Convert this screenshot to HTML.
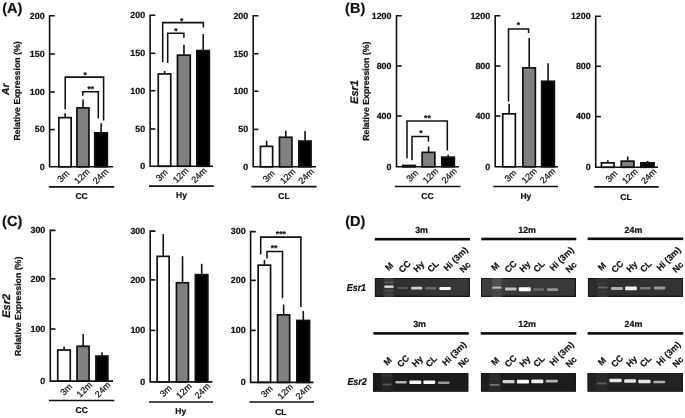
<!DOCTYPE html>
<html><head><meta charset="utf-8"><title>Figure</title>
<style>
html,body{margin:0;padding:0;background:#fff;}
body{width:685px;height:418px;overflow:hidden;font-family:"Liberation Sans",sans-serif;}
svg{display:block;filter:blur(0.4px);}
svg text{font-family:"Liberation Sans",sans-serif;text-rendering:geometricPrecision;stroke:#111;stroke-width:0.22px;}
</style></head><body>
<svg width="685" height="418" viewBox="0 0 685 418" font-family="Liberation Sans, sans-serif">
<rect width="685" height="418" fill="#fff"/>
<g id="charts">
<line x1="65.10" y1="113.30" x2="65.10" y2="117.30" stroke="#111" stroke-width="1.6"/>
<rect x="58.85" y="117.65" width="12.30" height="49.15" fill="#ffffff" stroke="#111" stroke-width="1.7"/>
<line x1="83.05" y1="99.60" x2="83.05" y2="107.50" stroke="#111" stroke-width="1.6"/>
<rect x="76.95" y="107.85" width="12.00" height="58.95" fill="#808080" stroke="#111" stroke-width="1.7"/>
<line x1="101.15" y1="123.20" x2="101.15" y2="132.50" stroke="#111" stroke-width="1.6"/>
<rect x="94.75" y="132.85" width="12.60" height="33.95" fill="#000000" stroke="#111" stroke-width="1.7"/>
<path d="M54.80 15.80H49.60V166.80H113.20" fill="none" stroke="#111" stroke-width="1.6"/>
<line x1="49.60" y1="54.00" x2="54.80" y2="54.00" stroke="#111" stroke-width="1.6"/>
<line x1="49.60" y1="92.00" x2="54.80" y2="92.00" stroke="#111" stroke-width="1.6"/>
<line x1="49.60" y1="129.60" x2="54.80" y2="129.60" stroke="#111" stroke-width="1.6"/>
<text x="44.60" y="18.60" text-anchor="end" font-size="8.9" font-weight="bold" fill="#111">200</text>
<text x="44.60" y="56.80" text-anchor="end" font-size="8.9" font-weight="bold" fill="#111">150</text>
<text x="44.60" y="94.80" text-anchor="end" font-size="8.9" font-weight="bold" fill="#111">100</text>
<text x="44.60" y="132.40" text-anchor="end" font-size="8.9" font-weight="bold" fill="#111">50</text>
<text x="44.60" y="169.60" text-anchor="end" font-size="8.9" font-weight="bold" fill="#111">0</text>
<text transform="translate(63.20 176.20) rotate(-45)" text-anchor="middle" font-size="9" fill="#111" stroke="#111" stroke-width="0.15" dy="3.1">3m</text>
<text transform="translate(81.85 176.20) rotate(-45)" text-anchor="middle" font-size="9" fill="#111" stroke="#111" stroke-width="0.15" dy="3.1">12m</text>
<text transform="translate(100.55 176.20) rotate(-45)" text-anchor="middle" font-size="9" fill="#111" stroke="#111" stroke-width="0.15" dy="3.1">24m</text>
<line x1="48.80" y1="186.80" x2="114.20" y2="186.80" stroke="#111" stroke-width="1.7"/>
<text x="81.60" y="199.40" text-anchor="middle" font-size="8.5" font-weight="bold" fill="#111">CC</text>
<path d="M65.20 109.30V77.10H103.60V120.50" fill="none" stroke="#111" stroke-width="1.55"/>
<path d="M82.80 95.70V91.80H98.30V118.50" fill="none" stroke="#111" stroke-width="1.55"/>
<text x="85.10" y="77.90" text-anchor="middle" font-size="8.5" font-weight="bold" fill="#111">*</text>
<text x="90.70" y="92.00" text-anchor="middle" font-size="8.5" font-weight="bold" fill="#111">**</text>
<line x1="164.60" y1="71.00" x2="164.60" y2="73.60" stroke="#111" stroke-width="1.6"/>
<rect x="158.25" y="73.95" width="12.50" height="92.35" fill="#ffffff" stroke="#111" stroke-width="1.7"/>
<line x1="183.95" y1="44.70" x2="183.95" y2="54.80" stroke="#111" stroke-width="1.6"/>
<rect x="177.45" y="55.15" width="12.80" height="111.15" fill="#808080" stroke="#111" stroke-width="1.7"/>
<line x1="203.20" y1="34.00" x2="203.20" y2="50.20" stroke="#111" stroke-width="1.6"/>
<rect x="196.85" y="50.55" width="12.50" height="115.75" fill="#000000" stroke="#111" stroke-width="1.7"/>
<path d="M155.30 15.20H150.10V166.30H213.00" fill="none" stroke="#111" stroke-width="1.6"/>
<line x1="150.10" y1="53.30" x2="155.30" y2="53.30" stroke="#111" stroke-width="1.6"/>
<line x1="150.10" y1="90.70" x2="155.30" y2="90.70" stroke="#111" stroke-width="1.6"/>
<line x1="150.10" y1="129.00" x2="155.30" y2="129.00" stroke="#111" stroke-width="1.6"/>
<text x="145.10" y="18.00" text-anchor="end" font-size="8.9" font-weight="bold" fill="#111">200</text>
<text x="145.10" y="56.10" text-anchor="end" font-size="8.9" font-weight="bold" fill="#111">150</text>
<text x="145.10" y="93.50" text-anchor="end" font-size="8.9" font-weight="bold" fill="#111">100</text>
<text x="145.10" y="131.80" text-anchor="end" font-size="8.9" font-weight="bold" fill="#111">50</text>
<text x="145.10" y="169.10" text-anchor="end" font-size="8.9" font-weight="bold" fill="#111">0</text>
<text transform="translate(161.80 175.10) rotate(-45)" text-anchor="middle" font-size="9" fill="#111" stroke="#111" stroke-width="0.15" dy="3.1">3m</text>
<text transform="translate(180.55 175.10) rotate(-45)" text-anchor="middle" font-size="9" fill="#111" stroke="#111" stroke-width="0.15" dy="3.1">12m</text>
<text transform="translate(198.90 175.10) rotate(-45)" text-anchor="middle" font-size="9" fill="#111" stroke="#111" stroke-width="0.15" dy="3.1">24m</text>
<line x1="149.00" y1="186.20" x2="213.80" y2="186.20" stroke="#111" stroke-width="1.7"/>
<text x="181.50" y="198.20" text-anchor="middle" font-size="8.5" font-weight="bold" fill="#111">Hy</text>
<path d="M162.70 62.30V22.60H203.40V27.60" fill="none" stroke="#111" stroke-width="1.55"/>
<path d="M167.70 63.00V33.20H183.90V37.70" fill="none" stroke="#111" stroke-width="1.55"/>
<text x="181.60" y="23.60" text-anchor="middle" font-size="8.5" font-weight="bold" fill="#111">*</text>
<text x="175.80" y="34.40" text-anchor="middle" font-size="8.5" font-weight="bold" fill="#111">*</text>
<line x1="266.65" y1="140.70" x2="266.65" y2="146.00" stroke="#111" stroke-width="1.6"/>
<rect x="260.45" y="146.35" width="12.20" height="20.45" fill="#ffffff" stroke="#111" stroke-width="1.7"/>
<line x1="285.80" y1="130.70" x2="285.80" y2="136.90" stroke="#111" stroke-width="1.6"/>
<rect x="279.45" y="137.25" width="12.50" height="29.55" fill="#808080" stroke="#111" stroke-width="1.7"/>
<line x1="305.05" y1="131.00" x2="305.05" y2="140.70" stroke="#111" stroke-width="1.6"/>
<rect x="298.85" y="141.05" width="12.20" height="25.75" fill="#000000" stroke="#111" stroke-width="1.7"/>
<path d="M258.40 15.80H253.20V166.80H316.00" fill="none" stroke="#111" stroke-width="1.6"/>
<line x1="253.20" y1="53.80" x2="258.40" y2="53.80" stroke="#111" stroke-width="1.6"/>
<line x1="253.20" y1="91.20" x2="258.40" y2="91.20" stroke="#111" stroke-width="1.6"/>
<line x1="253.20" y1="129.40" x2="258.40" y2="129.40" stroke="#111" stroke-width="1.6"/>
<text x="248.20" y="18.60" text-anchor="end" font-size="8.9" font-weight="bold" fill="#111">200</text>
<text x="248.20" y="56.60" text-anchor="end" font-size="8.9" font-weight="bold" fill="#111">150</text>
<text x="248.20" y="94.00" text-anchor="end" font-size="8.9" font-weight="bold" fill="#111">100</text>
<text x="248.20" y="132.20" text-anchor="end" font-size="8.9" font-weight="bold" fill="#111">50</text>
<text x="248.20" y="169.60" text-anchor="end" font-size="8.9" font-weight="bold" fill="#111">0</text>
<text transform="translate(268.75 176.20) rotate(-45)" text-anchor="middle" font-size="9" fill="#111" stroke="#111" stroke-width="0.15" dy="3.1">3m</text>
<text transform="translate(287.70 176.20) rotate(-45)" text-anchor="middle" font-size="9" fill="#111" stroke="#111" stroke-width="0.15" dy="3.1">12m</text>
<text transform="translate(306.05 176.20) rotate(-45)" text-anchor="middle" font-size="9" fill="#111" stroke="#111" stroke-width="0.15" dy="3.1">24m</text>
<line x1="251.40" y1="186.70" x2="316.50" y2="186.70" stroke="#111" stroke-width="1.7"/>
<text x="284.00" y="199.00" text-anchor="middle" font-size="8.5" font-weight="bold" fill="#111">CL</text>
<rect x="402.75" y="165.45" width="12.50" height="1.35" fill="#ffffff" stroke="#111" stroke-width="1.7"/>
<line x1="428.60" y1="146.50" x2="428.60" y2="152.00" stroke="#111" stroke-width="1.6"/>
<rect x="422.15" y="152.35" width="12.70" height="14.45" fill="#808080" stroke="#111" stroke-width="1.7"/>
<line x1="448.15" y1="154.80" x2="448.15" y2="156.80" stroke="#111" stroke-width="1.6"/>
<rect x="441.75" y="157.15" width="12.60" height="9.65" fill="#000000" stroke="#111" stroke-width="1.7"/>
<path d="M401.70 15.80H396.50V166.80H459.00" fill="none" stroke="#111" stroke-width="1.6"/>
<line x1="396.50" y1="66.00" x2="401.70" y2="66.00" stroke="#111" stroke-width="1.6"/>
<line x1="396.50" y1="116.00" x2="401.70" y2="116.00" stroke="#111" stroke-width="1.6"/>
<text x="391.50" y="18.60" text-anchor="end" font-size="8.9" font-weight="bold" fill="#111">1200</text>
<text x="391.50" y="68.80" text-anchor="end" font-size="8.9" font-weight="bold" fill="#111">800</text>
<text x="391.50" y="118.80" text-anchor="end" font-size="8.9" font-weight="bold" fill="#111">400</text>
<text x="391.50" y="169.60" text-anchor="end" font-size="8.9" font-weight="bold" fill="#111">0</text>
<text transform="translate(412.10 175.70) rotate(-45)" text-anchor="middle" font-size="9" fill="#111" stroke="#111" stroke-width="0.15" dy="3.1">3m</text>
<text transform="translate(430.50 175.70) rotate(-45)" text-anchor="middle" font-size="9" fill="#111" stroke="#111" stroke-width="0.15" dy="3.1">12m</text>
<text transform="translate(449.15 175.70) rotate(-45)" text-anchor="middle" font-size="9" fill="#111" stroke="#111" stroke-width="0.15" dy="3.1">24m</text>
<line x1="394.80" y1="186.50" x2="460.50" y2="186.50" stroke="#111" stroke-width="1.7"/>
<text x="427.40" y="199.00" text-anchor="middle" font-size="8.5" font-weight="bold" fill="#111">CC</text>
<path d="M407.00 158.30V120.90H447.30V150.60" fill="none" stroke="#111" stroke-width="1.55"/>
<path d="M412.00 160.30V136.40H428.40V141.50" fill="none" stroke="#111" stroke-width="1.55"/>
<text x="427.40" y="120.60" text-anchor="middle" font-size="8.5" font-weight="bold" fill="#111">**</text>
<text x="421.00" y="136.30" text-anchor="middle" font-size="8.5" font-weight="bold" fill="#111">*</text>
<line x1="509.15" y1="103.80" x2="509.15" y2="113.50" stroke="#111" stroke-width="1.6"/>
<rect x="502.75" y="113.85" width="12.60" height="52.95" fill="#ffffff" stroke="#111" stroke-width="1.7"/>
<line x1="529.20" y1="38.00" x2="529.20" y2="67.50" stroke="#111" stroke-width="1.6"/>
<rect x="522.85" y="67.85" width="12.50" height="98.95" fill="#808080" stroke="#111" stroke-width="1.7"/>
<line x1="548.10" y1="63.30" x2="548.10" y2="80.90" stroke="#111" stroke-width="1.6"/>
<rect x="541.65" y="81.25" width="12.70" height="85.55" fill="#000000" stroke="#111" stroke-width="1.7"/>
<path d="M500.40 15.80H495.20V166.80H558.00" fill="none" stroke="#111" stroke-width="1.6"/>
<line x1="495.20" y1="66.00" x2="500.40" y2="66.00" stroke="#111" stroke-width="1.6"/>
<line x1="495.20" y1="116.00" x2="500.40" y2="116.00" stroke="#111" stroke-width="1.6"/>
<text x="490.20" y="18.60" text-anchor="end" font-size="8.9" font-weight="bold" fill="#111">1200</text>
<text x="490.20" y="68.80" text-anchor="end" font-size="8.9" font-weight="bold" fill="#111">800</text>
<text x="490.20" y="118.80" text-anchor="end" font-size="8.9" font-weight="bold" fill="#111">400</text>
<text x="490.20" y="169.60" text-anchor="end" font-size="8.9" font-weight="bold" fill="#111">0</text>
<text transform="translate(510.55 175.70) rotate(-45)" text-anchor="middle" font-size="9" fill="#111" stroke="#111" stroke-width="0.15" dy="3.1">3m</text>
<text transform="translate(529.20 175.70) rotate(-45)" text-anchor="middle" font-size="9" fill="#111" stroke="#111" stroke-width="0.15" dy="3.1">12m</text>
<text transform="translate(547.60 175.70) rotate(-45)" text-anchor="middle" font-size="9" fill="#111" stroke="#111" stroke-width="0.15" dy="3.1">24m</text>
<line x1="493.20" y1="186.50" x2="558.10" y2="186.50" stroke="#111" stroke-width="1.7"/>
<text x="525.90" y="199.10" text-anchor="middle" font-size="8.5" font-weight="bold" fill="#111">Hy</text>
<path d="M508.50 101.50V28.90H528.60V33.00" fill="none" stroke="#111" stroke-width="1.55"/>
<text x="518.30" y="27.50" text-anchor="middle" font-size="8.5" font-weight="bold" fill="#111">*</text>
<line x1="607.85" y1="160.30" x2="607.85" y2="162.50" stroke="#111" stroke-width="1.6"/>
<rect x="601.45" y="162.85" width="12.60" height="4.45" fill="#ffffff" stroke="#111" stroke-width="1.7"/>
<line x1="627.70" y1="156.50" x2="627.70" y2="160.80" stroke="#111" stroke-width="1.6"/>
<rect x="621.25" y="161.15" width="12.70" height="6.15" fill="#808080" stroke="#111" stroke-width="1.7"/>
<line x1="647.55" y1="161.00" x2="647.55" y2="162.50" stroke="#111" stroke-width="1.6"/>
<rect x="640.85" y="162.85" width="13.20" height="4.45" fill="#000000" stroke="#111" stroke-width="1.7"/>
<path d="M600.90 16.30H595.70V167.30H658.00" fill="none" stroke="#111" stroke-width="1.6"/>
<line x1="595.70" y1="66.30" x2="600.90" y2="66.30" stroke="#111" stroke-width="1.6"/>
<line x1="595.70" y1="116.60" x2="600.90" y2="116.60" stroke="#111" stroke-width="1.6"/>
<text x="590.70" y="19.10" text-anchor="end" font-size="8.9" font-weight="bold" fill="#111">1200</text>
<text x="590.70" y="69.10" text-anchor="end" font-size="8.9" font-weight="bold" fill="#111">800</text>
<text x="590.70" y="119.40" text-anchor="end" font-size="8.9" font-weight="bold" fill="#111">400</text>
<text x="590.70" y="170.10" text-anchor="end" font-size="8.9" font-weight="bold" fill="#111">0</text>
<text transform="translate(611.45 176.10) rotate(-45)" text-anchor="middle" font-size="9" fill="#111" stroke="#111" stroke-width="0.15" dy="3.1">3m</text>
<text transform="translate(629.80 176.10) rotate(-45)" text-anchor="middle" font-size="9" fill="#111" stroke="#111" stroke-width="0.15" dy="3.1">12m</text>
<text transform="translate(648.65 176.10) rotate(-45)" text-anchor="middle" font-size="9" fill="#111" stroke="#111" stroke-width="0.15" dy="3.1">24m</text>
<line x1="594.20" y1="186.90" x2="658.70" y2="186.90" stroke="#111" stroke-width="1.7"/>
<text x="626.00" y="199.60" text-anchor="middle" font-size="8.5" font-weight="bold" fill="#111">CL</text>
<line x1="64.10" y1="346.70" x2="64.10" y2="349.70" stroke="#111" stroke-width="1.6"/>
<rect x="57.75" y="350.05" width="12.50" height="31.05" fill="#ffffff" stroke="#111" stroke-width="1.7"/>
<line x1="83.15" y1="334.10" x2="83.15" y2="345.90" stroke="#111" stroke-width="1.6"/>
<rect x="77.05" y="346.25" width="12.00" height="34.85" fill="#808080" stroke="#111" stroke-width="1.7"/>
<line x1="102.00" y1="352.20" x2="102.00" y2="355.70" stroke="#111" stroke-width="1.6"/>
<rect x="95.95" y="356.05" width="11.90" height="25.05" fill="#000000" stroke="#111" stroke-width="1.7"/>
<path d="M55.50 230.40H50.30V381.10H113.00" fill="none" stroke="#111" stroke-width="1.6"/>
<line x1="50.30" y1="278.80" x2="55.50" y2="278.80" stroke="#111" stroke-width="1.6"/>
<line x1="50.30" y1="329.00" x2="55.50" y2="329.00" stroke="#111" stroke-width="1.6"/>
<text x="45.30" y="233.20" text-anchor="end" font-size="8.9" font-weight="bold" fill="#111">300</text>
<text x="45.30" y="281.60" text-anchor="end" font-size="8.9" font-weight="bold" fill="#111">200</text>
<text x="45.30" y="331.80" text-anchor="end" font-size="8.9" font-weight="bold" fill="#111">100</text>
<text x="45.30" y="383.90" text-anchor="end" font-size="8.9" font-weight="bold" fill="#111">0</text>
<text transform="translate(66.30 389.50) rotate(-45)" text-anchor="middle" font-size="9" fill="#111" stroke="#111" stroke-width="0.15" dy="3.1">3m</text>
<text transform="translate(84.35 389.50) rotate(-45)" text-anchor="middle" font-size="9" fill="#111" stroke="#111" stroke-width="0.15" dy="3.1">12m</text>
<text transform="translate(102.60 389.50) rotate(-45)" text-anchor="middle" font-size="9" fill="#111" stroke="#111" stroke-width="0.15" dy="3.1">24m</text>
<line x1="49.00" y1="400.50" x2="114.30" y2="400.50" stroke="#111" stroke-width="1.7"/>
<text x="81.70" y="412.80" text-anchor="middle" font-size="8.5" font-weight="bold" fill="#111">CC</text>
<line x1="163.25" y1="234.10" x2="163.25" y2="256.00" stroke="#111" stroke-width="1.6"/>
<rect x="157.15" y="256.35" width="12.00" height="125.55" fill="#ffffff" stroke="#111" stroke-width="1.7"/>
<line x1="182.55" y1="256.20" x2="182.55" y2="282.40" stroke="#111" stroke-width="1.6"/>
<rect x="176.45" y="282.75" width="12.00" height="99.15" fill="#808080" stroke="#111" stroke-width="1.7"/>
<line x1="201.70" y1="263.80" x2="201.70" y2="274.30" stroke="#111" stroke-width="1.6"/>
<rect x="195.35" y="274.65" width="12.50" height="107.25" fill="#000000" stroke="#111" stroke-width="1.7"/>
<path d="M155.40 231.10H150.20V381.90H212.50" fill="none" stroke="#111" stroke-width="1.6"/>
<line x1="150.20" y1="279.90" x2="155.40" y2="279.90" stroke="#111" stroke-width="1.6"/>
<line x1="150.20" y1="330.40" x2="155.40" y2="330.40" stroke="#111" stroke-width="1.6"/>
<text x="145.20" y="233.90" text-anchor="end" font-size="8.9" font-weight="bold" fill="#111">300</text>
<text x="145.20" y="282.70" text-anchor="end" font-size="8.9" font-weight="bold" fill="#111">200</text>
<text x="145.20" y="333.20" text-anchor="end" font-size="8.9" font-weight="bold" fill="#111">100</text>
<text x="145.20" y="384.70" text-anchor="end" font-size="8.9" font-weight="bold" fill="#111">0</text>
<text transform="translate(165.75 390.80) rotate(-45)" text-anchor="middle" font-size="9" fill="#111" stroke="#111" stroke-width="0.15" dy="3.1">3m</text>
<text transform="translate(183.85 390.80) rotate(-45)" text-anchor="middle" font-size="9" fill="#111" stroke="#111" stroke-width="0.15" dy="3.1">12m</text>
<text transform="translate(202.30 390.80) rotate(-45)" text-anchor="middle" font-size="9" fill="#111" stroke="#111" stroke-width="0.15" dy="3.1">24m</text>
<line x1="149.00" y1="402.00" x2="213.00" y2="402.00" stroke="#111" stroke-width="1.7"/>
<text x="180.80" y="413.60" text-anchor="middle" font-size="8.5" font-weight="bold" fill="#111">Hy</text>
<line x1="264.45" y1="260.00" x2="264.45" y2="264.80" stroke="#111" stroke-width="1.6"/>
<rect x="258.15" y="265.15" width="12.40" height="117.25" fill="#ffffff" stroke="#111" stroke-width="1.7"/>
<line x1="283.65" y1="304.50" x2="283.65" y2="314.50" stroke="#111" stroke-width="1.6"/>
<rect x="277.45" y="314.85" width="12.20" height="67.55" fill="#808080" stroke="#111" stroke-width="1.7"/>
<line x1="303.30" y1="311.00" x2="303.30" y2="320.10" stroke="#111" stroke-width="1.6"/>
<rect x="296.85" y="320.45" width="12.70" height="61.95" fill="#000000" stroke="#111" stroke-width="1.7"/>
<path d="M255.80 231.60H250.60V382.40H313.50" fill="none" stroke="#111" stroke-width="1.6"/>
<line x1="250.60" y1="280.40" x2="255.80" y2="280.40" stroke="#111" stroke-width="1.6"/>
<line x1="250.60" y1="330.40" x2="255.80" y2="330.40" stroke="#111" stroke-width="1.6"/>
<text x="245.60" y="234.40" text-anchor="end" font-size="8.9" font-weight="bold" fill="#111">300</text>
<text x="245.60" y="283.20" text-anchor="end" font-size="8.9" font-weight="bold" fill="#111">200</text>
<text x="245.60" y="333.20" text-anchor="end" font-size="8.9" font-weight="bold" fill="#111">100</text>
<text x="245.60" y="385.20" text-anchor="end" font-size="8.9" font-weight="bold" fill="#111">0</text>
<text transform="translate(266.65 391.50) rotate(-45)" text-anchor="middle" font-size="9" fill="#111" stroke="#111" stroke-width="0.15" dy="3.1">3m</text>
<text transform="translate(285.15 391.50) rotate(-45)" text-anchor="middle" font-size="9" fill="#111" stroke="#111" stroke-width="0.15" dy="3.1">12m</text>
<text transform="translate(303.30 391.50) rotate(-45)" text-anchor="middle" font-size="9" fill="#111" stroke="#111" stroke-width="0.15" dy="3.1">24m</text>
<line x1="249.40" y1="402.00" x2="314.00" y2="402.00" stroke="#111" stroke-width="1.7"/>
<text x="280.80" y="414.60" text-anchor="middle" font-size="8.5" font-weight="bold" fill="#111">CL</text>
<path d="M260.70 254.60V237.10H300.90V307.00" fill="none" stroke="#111" stroke-width="1.55"/>
<path d="M267.00 258.40V251.40H282.50V298.20" fill="none" stroke="#111" stroke-width="1.55"/>
<text x="280.80" y="236.50" text-anchor="middle" font-size="8.5" font-weight="bold" fill="#111">***</text>
<text x="274.00" y="250.80" text-anchor="middle" font-size="8.5" font-weight="bold" fill="#111">**</text>
</g>
<text x="2.2" y="13.0" font-size="14.5" font-weight="bold" fill="#111">(A)</text>
<text x="345.1" y="13.0" font-size="14.5" font-weight="bold" fill="#111">(B)</text>
<text x="2.1" y="226.4" font-size="14.5" font-weight="bold" fill="#111">(C)</text>
<text x="345.2" y="226.1" font-size="14.5" font-weight="bold" fill="#111">(D)</text>
<text transform="translate(20.20 91.00) rotate(-90)" text-anchor="middle" font-size="8.75" font-weight="bold" fill="#111">Relative Expression (%)</text>
<text transform="translate(9.20 89.30) rotate(-90)" text-anchor="middle" font-size="10.3" font-weight="bold" font-style="italic" fill="#111">Ar</text>
<text transform="translate(369.10 91.20) rotate(-90)" text-anchor="middle" font-size="8.75" font-weight="bold" fill="#111">Relative Expression (%)</text>
<text transform="translate(358.10 92.00) rotate(-90)" text-anchor="middle" font-size="11" font-weight="bold" font-style="italic" fill="#111">Esr1</text>
<text transform="translate(21.20 306.30) rotate(-90)" text-anchor="middle" font-size="8.75" font-weight="bold" fill="#111">Relative Expression (%)</text>
<text transform="translate(10.00 305.90) rotate(-90)" text-anchor="middle" font-size="11" font-weight="bold" font-style="italic" fill="#111">Esr2</text>
<defs><filter id="b05" x="-20%" y="-80%" width="140%" height="260%"><feGaussianBlur stdDeviation="0.55"/></filter><filter id="b07" x="-30%" y="-100%" width="160%" height="300%"><feGaussianBlur stdDeviation="0.7"/></filter><filter id="b1" x="-30%" y="-20%" width="160%" height="140%"><feGaussianBlur stdDeviation="1.2"/></filter></defs>
<text x="421.60" y="232.70" text-anchor="middle" font-size="8.9" font-weight="bold" fill="#111">3m</text>
<rect x="374.80" y="237.90" width="95.20" height="2.6" fill="#0a0a0a"/>
<text x="527.10" y="232.70" text-anchor="middle" font-size="8.9" font-weight="bold" fill="#111">12m</text>
<rect x="481.20" y="237.70" width="95.10" height="2.6" fill="#0a0a0a"/>
<text x="633.50" y="232.70" text-anchor="middle" font-size="8.9" font-weight="bold" fill="#111">24m</text>
<rect x="587.60" y="237.50" width="95.60" height="2.6" fill="#0a0a0a"/>
<text transform="translate(389.20 266.50) rotate(-45)" text-anchor="middle" font-size="8.8" font-weight="bold" fill="#111" stroke="#111" stroke-width="0.15" dy="3.05">M</text>
<text transform="translate(404.60 266.50) rotate(-45)" text-anchor="middle" font-size="8.8" font-weight="bold" fill="#111" stroke="#111" stroke-width="0.15" dy="3.05">CC</text>
<text transform="translate(418.90 266.70) rotate(-45)" text-anchor="middle" font-size="8.8" font-weight="bold" fill="#111" stroke="#111" stroke-width="0.15" dy="3.05">Hy</text>
<text transform="translate(432.90 266.50) rotate(-45)" text-anchor="middle" font-size="8.8" font-weight="bold" fill="#111" stroke="#111" stroke-width="0.15" dy="3.05">CL</text>
<text transform="translate(455.70 258.80) rotate(-45)" text-anchor="middle" font-size="8.8" font-weight="bold" fill="#111" stroke="#111" stroke-width="0.15" dy="3.05">Hi (3m)</text>
<text transform="translate(465.10 267.20) rotate(-45)" text-anchor="middle" font-size="8.8" font-weight="bold" fill="#111" stroke="#111" stroke-width="0.15" dy="3.05">Nc</text>
<text transform="translate(495.20 266.50) rotate(-45)" text-anchor="middle" font-size="8.8" font-weight="bold" fill="#111" stroke="#111" stroke-width="0.15" dy="3.05">M</text>
<text transform="translate(510.60 266.50) rotate(-45)" text-anchor="middle" font-size="8.8" font-weight="bold" fill="#111" stroke="#111" stroke-width="0.15" dy="3.05">CC</text>
<text transform="translate(524.90 266.70) rotate(-45)" text-anchor="middle" font-size="8.8" font-weight="bold" fill="#111" stroke="#111" stroke-width="0.15" dy="3.05">Hy</text>
<text transform="translate(538.90 266.50) rotate(-45)" text-anchor="middle" font-size="8.8" font-weight="bold" fill="#111" stroke="#111" stroke-width="0.15" dy="3.05">CL</text>
<text transform="translate(561.70 258.80) rotate(-45)" text-anchor="middle" font-size="8.8" font-weight="bold" fill="#111" stroke="#111" stroke-width="0.15" dy="3.05">Hi (3m)</text>
<text transform="translate(571.10 267.20) rotate(-45)" text-anchor="middle" font-size="8.8" font-weight="bold" fill="#111" stroke="#111" stroke-width="0.15" dy="3.05">Nc</text>
<text transform="translate(602.00 266.50) rotate(-45)" text-anchor="middle" font-size="8.8" font-weight="bold" fill="#111" stroke="#111" stroke-width="0.15" dy="3.05">M</text>
<text transform="translate(617.40 266.50) rotate(-45)" text-anchor="middle" font-size="8.8" font-weight="bold" fill="#111" stroke="#111" stroke-width="0.15" dy="3.05">CC</text>
<text transform="translate(631.70 266.70) rotate(-45)" text-anchor="middle" font-size="8.8" font-weight="bold" fill="#111" stroke="#111" stroke-width="0.15" dy="3.05">Hy</text>
<text transform="translate(645.70 266.50) rotate(-45)" text-anchor="middle" font-size="8.8" font-weight="bold" fill="#111" stroke="#111" stroke-width="0.15" dy="3.05">CL</text>
<text transform="translate(668.50 258.80) rotate(-45)" text-anchor="middle" font-size="8.8" font-weight="bold" fill="#111" stroke="#111" stroke-width="0.15" dy="3.05">Hi (3m)</text>
<text transform="translate(677.90 267.20) rotate(-45)" text-anchor="middle" font-size="8.8" font-weight="bold" fill="#111" stroke="#111" stroke-width="0.15" dy="3.05">Nc</text>
<defs><linearGradient id="g1"><stop offset="0" stop-color="#2a2a2a"/><stop offset="1" stop-color="#393939"/></linearGradient><linearGradient id="g2"><stop offset="0" stop-color="#404040"/><stop offset="0.3" stop-color="#393939"/><stop offset="1" stop-color="#393939"/></linearGradient><linearGradient id="g3"><stop offset="0" stop-color="#2c2c2c"/><stop offset="1" stop-color="#343434"/></linearGradient></defs>
<clipPath id="gc1"><rect x="374.70" y="277.90" width="95.20" height="19.00"/></clipPath>
<g clip-path="url(#gc1)">
<rect x="374.70" y="277.90" width="95.20" height="19.00" fill="url(#g1)"/>
<rect x="375.20" y="278.40" width="94.20" height="18.00" fill="none" stroke="#141414" stroke-width="1.2" filter="url(#b05)"/>
<rect x="383.60" y="275.90" width="10.60" height="23.00" fill="#3a3a3a" filter="url(#b1)"/>
<rect x="384.40" y="281.70" width="9.00" height="1.4" fill="#5a5a5a" filter="url(#b07)"/>
<rect x="384.40" y="285.55" width="9.00" height="2.3" fill="#dedede" filter="url(#b07)"/>
<rect x="384.40" y="290.05" width="9.00" height="1.3" fill="#4c4c4c" filter="url(#b07)"/>
<rect x="384.40" y="294.00" width="9.00" height="1.2" fill="#444444" filter="url(#b07)"/>
<rect x="397.30" y="286.90" width="10.70" height="2.2" rx="1" fill="#565656" filter="url(#b07)"/>
<rect x="411.10" y="286.70" width="11.20" height="2.8" rx="1" fill="#d2d2d2" filter="url(#b07)"/>
<rect x="425.30" y="287.10" width="11.10" height="2.4" rx="1" fill="#6a6a6a" filter="url(#b07)"/>
<rect x="439.30" y="286.90" width="11.60" height="3.2" rx="1" fill="#f4f4f4" filter="url(#b07)"/>
</g>
<clipPath id="gc2"><rect x="480.90" y="277.90" width="95.00" height="19.00"/></clipPath>
<g clip-path="url(#gc2)">
<rect x="480.90" y="277.90" width="95.00" height="19.00" fill="url(#g2)"/>
<rect x="481.40" y="278.40" width="94.00" height="18.00" fill="none" stroke="#141414" stroke-width="1.2" filter="url(#b05)"/>
<rect x="491.50" y="275.90" width="10.60" height="23.00" fill="#444444" filter="url(#b1)"/>
<rect x="492.30" y="279.50" width="9.00" height="1.2" fill="#5e5e5e" filter="url(#b07)"/>
<rect x="492.30" y="281.70" width="9.00" height="1.2" fill="#5a5a5a" filter="url(#b07)"/>
<rect x="492.30" y="283.90" width="9.00" height="1.2" fill="#606060" filter="url(#b07)"/>
<rect x="492.30" y="286.50" width="9.00" height="2.2" fill="#b8b8b8" filter="url(#b07)"/>
<rect x="492.30" y="290.05" width="9.00" height="1.3" fill="#505050" filter="url(#b07)"/>
<rect x="492.30" y="294.10" width="9.00" height="1.2" fill="#4a4a4a" filter="url(#b07)"/>
<rect x="505.00" y="287.40" width="11.40" height="3.0" rx="1" fill="#c0c0c0" filter="url(#b07)"/>
<rect x="518.80" y="287.30" width="12.00" height="4.0" rx="1" fill="#ffffff" filter="url(#b07)"/>
<rect x="533.10" y="288.35" width="10.90" height="2.5" rx="1" fill="#6e6e6e" filter="url(#b07)"/>
<rect x="547.10" y="288.20" width="11.10" height="2.8" rx="1" fill="#949494" filter="url(#b07)"/>
</g>
<clipPath id="gc3"><rect x="587.80" y="277.90" width="95.30" height="19.00"/></clipPath>
<g clip-path="url(#gc3)">
<rect x="587.80" y="277.90" width="95.30" height="19.00" fill="url(#g3)"/>
<rect x="588.30" y="278.40" width="94.30" height="18.00" fill="none" stroke="#141414" stroke-width="1.2" filter="url(#b05)"/>
<rect x="597.20" y="275.90" width="11.20" height="23.00" fill="#303030" filter="url(#b1)"/>
<rect x="598.00" y="283.40" width="9.60" height="1.2" fill="#424242" filter="url(#b07)"/>
<rect x="598.00" y="286.60" width="9.60" height="1.8" fill="#666666" filter="url(#b07)"/>
<rect x="598.00" y="290.90" width="9.60" height="1.2" fill="#3c3c3c" filter="url(#b07)"/>
<rect x="611.00" y="286.90" width="12.00" height="3" rx="1" fill="#adadad" filter="url(#b07)"/>
<rect x="625.10" y="286.50" width="11.80" height="3.8" rx="1" fill="#f2f2f2" filter="url(#b07)"/>
<rect x="639.70" y="286.90" width="11.10" height="2.6" rx="1" fill="#767676" filter="url(#b07)"/>
<rect x="653.90" y="286.60" width="11.50" height="2.8" rx="1" fill="#989898" filter="url(#b07)"/>
</g>
<text transform="translate(346.8 291.2) scale(0.88 1)" font-size="10.1" font-weight="bold" font-style="italic" fill="#111">Esr1</text>
<text x="419.60" y="327.00" text-anchor="middle" font-size="8.9" font-weight="bold" fill="#111">3m</text>
<rect x="373.40" y="332.10" width="95.40" height="2.6" fill="#0a0a0a"/>
<text x="527.10" y="327.00" text-anchor="middle" font-size="8.9" font-weight="bold" fill="#111">12m</text>
<rect x="480.70" y="332.10" width="95.60" height="2.6" fill="#0a0a0a"/>
<text x="633.50" y="327.00" text-anchor="middle" font-size="8.9" font-weight="bold" fill="#111">24m</text>
<rect x="587.60" y="332.10" width="95.60" height="2.6" fill="#0a0a0a"/>
<text transform="translate(387.60 361.20) rotate(-45)" text-anchor="middle" font-size="8.8" font-weight="bold" fill="#111" stroke="#111" stroke-width="0.15" dy="3.05">M</text>
<text transform="translate(403.00 361.20) rotate(-45)" text-anchor="middle" font-size="8.8" font-weight="bold" fill="#111" stroke="#111" stroke-width="0.15" dy="3.05">CC</text>
<text transform="translate(417.30 361.40) rotate(-45)" text-anchor="middle" font-size="8.8" font-weight="bold" fill="#111" stroke="#111" stroke-width="0.15" dy="3.05">Hy</text>
<text transform="translate(431.30 361.20) rotate(-45)" text-anchor="middle" font-size="8.8" font-weight="bold" fill="#111" stroke="#111" stroke-width="0.15" dy="3.05">CL</text>
<text transform="translate(454.10 353.50) rotate(-45)" text-anchor="middle" font-size="8.8" font-weight="bold" fill="#111" stroke="#111" stroke-width="0.15" dy="3.05">Hi (3m)</text>
<text transform="translate(463.50 361.90) rotate(-45)" text-anchor="middle" font-size="8.8" font-weight="bold" fill="#111" stroke="#111" stroke-width="0.15" dy="3.05">Nc</text>
<text transform="translate(495.20 361.20) rotate(-45)" text-anchor="middle" font-size="8.8" font-weight="bold" fill="#111" stroke="#111" stroke-width="0.15" dy="3.05">M</text>
<text transform="translate(510.60 361.20) rotate(-45)" text-anchor="middle" font-size="8.8" font-weight="bold" fill="#111" stroke="#111" stroke-width="0.15" dy="3.05">CC</text>
<text transform="translate(524.90 361.40) rotate(-45)" text-anchor="middle" font-size="8.8" font-weight="bold" fill="#111" stroke="#111" stroke-width="0.15" dy="3.05">Hy</text>
<text transform="translate(538.90 361.20) rotate(-45)" text-anchor="middle" font-size="8.8" font-weight="bold" fill="#111" stroke="#111" stroke-width="0.15" dy="3.05">CL</text>
<text transform="translate(561.70 353.50) rotate(-45)" text-anchor="middle" font-size="8.8" font-weight="bold" fill="#111" stroke="#111" stroke-width="0.15" dy="3.05">Hi (3m)</text>
<text transform="translate(571.10 361.90) rotate(-45)" text-anchor="middle" font-size="8.8" font-weight="bold" fill="#111" stroke="#111" stroke-width="0.15" dy="3.05">Nc</text>
<text transform="translate(601.80 361.20) rotate(-45)" text-anchor="middle" font-size="8.8" font-weight="bold" fill="#111" stroke="#111" stroke-width="0.15" dy="3.05">M</text>
<text transform="translate(617.20 361.20) rotate(-45)" text-anchor="middle" font-size="8.8" font-weight="bold" fill="#111" stroke="#111" stroke-width="0.15" dy="3.05">CC</text>
<text transform="translate(631.50 361.40) rotate(-45)" text-anchor="middle" font-size="8.8" font-weight="bold" fill="#111" stroke="#111" stroke-width="0.15" dy="3.05">Hy</text>
<text transform="translate(645.50 361.20) rotate(-45)" text-anchor="middle" font-size="8.8" font-weight="bold" fill="#111" stroke="#111" stroke-width="0.15" dy="3.05">CL</text>
<text transform="translate(668.30 353.50) rotate(-45)" text-anchor="middle" font-size="8.8" font-weight="bold" fill="#111" stroke="#111" stroke-width="0.15" dy="3.05">Hi (3m)</text>
<text transform="translate(677.70 361.90) rotate(-45)" text-anchor="middle" font-size="8.8" font-weight="bold" fill="#111" stroke="#111" stroke-width="0.15" dy="3.05">Nc</text>
<clipPath id="gc4"><rect x="372.90" y="372.90" width="95.60" height="18.90"/></clipPath>
<g clip-path="url(#gc4)">
<rect x="372.90" y="372.90" width="95.60" height="18.90" fill="#1b1b1b"/>
<rect x="373.40" y="373.40" width="94.60" height="17.90" fill="none" stroke="#141414" stroke-width="1.2" filter="url(#b05)"/>
<rect x="381.80" y="370.90" width="10.40" height="22.90" fill="#272727" filter="url(#b1)"/>
<rect x="382.60" y="374.25" width="8.80" height="2.5" fill="#333333" filter="url(#b07)"/>
<rect x="382.60" y="383.60" width="8.80" height="1.8" fill="#555555" filter="url(#b07)"/>
<rect x="395.40" y="380.90" width="11.20" height="2.6" rx="1" fill="#b4b4b4" filter="url(#b07)"/>
<rect x="409.40" y="380.55" width="11.90" height="3.5" rx="1" fill="#f6f6f6" filter="url(#b07)"/>
<rect x="423.40" y="380.55" width="11.80" height="3.5" rx="1" fill="#f6f6f6" filter="url(#b07)"/>
<rect x="438.00" y="381.45" width="11.60" height="2.5" rx="1" fill="#9a9a9a" filter="url(#b07)"/>
</g>
<clipPath id="gc5"><rect x="480.80" y="372.90" width="95.10" height="18.90"/></clipPath>
<g clip-path="url(#gc5)">
<rect x="480.80" y="372.90" width="95.10" height="18.90" fill="#1e1e1e"/>
<rect x="481.30" y="373.40" width="94.10" height="17.90" fill="none" stroke="#141414" stroke-width="1.2" filter="url(#b05)"/>
<rect x="489.10" y="370.90" width="11.20" height="22.90" fill="#292929" filter="url(#b1)"/>
<rect x="489.90" y="375.10" width="9.60" height="1.4" fill="#363636" filter="url(#b07)"/>
<rect x="489.90" y="378.10" width="9.60" height="1.4" fill="#383838" filter="url(#b07)"/>
<rect x="489.90" y="384.00" width="9.60" height="1.8" fill="#6e6e6e" filter="url(#b07)"/>
<rect x="502.60" y="380.00" width="12.00" height="3.2" rx="1" fill="#d4d4d4" filter="url(#b07)"/>
<rect x="516.90" y="379.65" width="12.10" height="3.9" rx="1" fill="#f6f6f6" filter="url(#b07)"/>
<rect x="531.30" y="379.45" width="12.00" height="3.9" rx="1" fill="#ececec" filter="url(#b07)"/>
<rect x="545.60" y="379.65" width="12.20" height="2.9" rx="1" fill="#b4b4b4" filter="url(#b07)"/>
</g>
<clipPath id="gc6"><rect x="587.40" y="372.90" width="95.60" height="18.90"/></clipPath>
<g clip-path="url(#gc6)">
<rect x="587.40" y="372.90" width="95.60" height="18.90" fill="#232323"/>
<rect x="587.90" y="373.40" width="94.60" height="17.90" fill="none" stroke="#141414" stroke-width="1.2" filter="url(#b05)"/>
<rect x="596.00" y="370.90" width="11.30" height="22.90" fill="#2c2c2c" filter="url(#b1)"/>
<rect x="596.80" y="382.50" width="9.70" height="1.8" fill="#5a5a5a" filter="url(#b07)"/>
<rect x="609.40" y="378.85" width="12.30" height="3.5" rx="1" fill="#e6e6e6" filter="url(#b07)"/>
<rect x="624.20" y="379.35" width="11.80" height="3.5" rx="1" fill="#e6e6e6" filter="url(#b07)"/>
<rect x="638.30" y="379.65" width="12.30" height="3.5" rx="1" fill="#e6e6e6" filter="url(#b07)"/>
<rect x="653.30" y="380.65" width="11.80" height="2.5" rx="1" fill="#b0b0b0" filter="url(#b07)"/>
</g>
<text transform="translate(347.4 385.2) scale(0.88 1)" font-size="10.1" font-weight="bold" font-style="italic" fill="#111">Esr2</text>
</svg>
</body></html>
